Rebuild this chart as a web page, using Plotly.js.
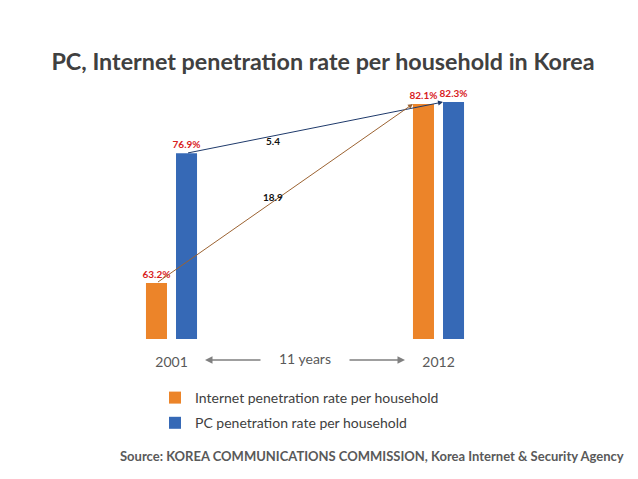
<!DOCTYPE html>
<html>
<head>
<meta charset="utf-8">
<script src="https://cdn.plot.ly/plotly-3.0.1.min.js"></script>
<style>html,body{margin:0;padding:0;background:#fff;}#chart{width:638px;height:479px;}</style>
</head>
<body>
<div id="chart"></div>
<script>
var years = ["2001", "2012"];
var internetRate = [63.2, 82.1];
var pcRate = [76.9, 82.3];
var seriesNames = ["Internet penetration rate per household", "PC penetration rate per household"];
var titleText = "PC, Internet penetration rate per household in Korea";
var sourceText = "Source: KOREA COMMUNICATIONS COMMISSION, Korea Internet & Security Agency";
var spanText = "11 years";

var FONT = "Lato, 'Open Sans', sans-serif";
var bargap = 0.775, bargroupgap = 0.3;
var slot = (1 - bargap) / 2;
var halfBar = slot * (1 - bargroupgap) / 2;
var offO = -slot / 2, offB = slot / 2;

function fmt(v){ return v.toFixed(1) + "%"; }

var labelFont = {family:FONT, size:10, color:"#D8211D", weight:"bold"};
var traces = [
  {type:"bar", name:seriesNames[0], legendgroup:"a", x:years, y:internetRate,
   marker:{color:"#EC8429"}, text:internetRate.map(fmt), textposition:"outside", constraintext:"none",
   textfont:labelFont, cliponaxis:false, hoverinfo:"skip"},
  {type:"bar", name:seriesNames[1], legendgroup:"b", x:years, y:pcRate,
   marker:{color:"#3669B6"}, text:pcRate.map(fmt), textposition:"outside", constraintext:"none",
   textfont:labelFont, cliponaxis:false, hoverinfo:"skip"}
];

var L = 38, R = 66, T = 90, B = 140;
var W = 638 - L - R, H = 479 - T - B;
function px(p){ return (p - L) / W; }
function py(p){ return (479 - B - p) / H; }

var annotations = [
  {x: 1 + offB - halfBar, y: pcRate[1], ax: 0 + offB, ay: pcRate[0], xref:"x", yref:"y", axref:"x", ayref:"y",
   text:"", showarrow:true, arrowhead:2, arrowsize:1, arrowwidth:1, arrowcolor:"#1F3A6B", standoff:0},
  {x: 1 + offO - halfBar, y: internetRate[1], ax: 0 + offO, ay: internetRate[0], xref:"x", yref:"y", axref:"x", ayref:"y",
   text:"", showarrow:true, arrowhead:2, arrowsize:1, arrowwidth:1, arrowcolor:"#9C6332", standoff:0},
  {x: 0.38, y: 78.2, xref:"x", yref:"y", text:(pcRate[1]-pcRate[0]).toFixed(1), showarrow:false,
   font:{family:FONT, size:10, color:"#111", weight:"bold"}},
  {x: 0.38, y: 72.3, xref:"x", yref:"y", text:(internetRate[1]-internetRate[0]).toFixed(1), showarrow:false,
   font:{family:FONT, size:10, color:"#111", weight:"bold"}},
  {x: px(305), y: py(358), xref:"paper", yref:"paper", yanchor:"middle", text:spanText, showarrow:false,
   font:{family:FONT, size:14, color:"#595959"}},
  {x: px(205), y: py(360), xref:"paper", yref:"paper", ax:57, ay:0, text:"", showarrow:true,
   arrowhead:2, arrowsize:1, arrowwidth:1.5, arrowcolor:"#808080", standoff:0},
  {x: px(405), y: py(360), xref:"paper", yref:"paper", ax:-57, ay:0, text:"", showarrow:true,
   arrowhead:2, arrowsize:1, arrowwidth:1.5, arrowcolor:"#808080", standoff:0},
  {x: px(372), y: py(466), xref:"paper", yref:"paper", text:"<b>"+sourceText+"</b>", showarrow:false,
   font:{family:FONT, size:13, color:"#595959"}}
];

var layout = {
  width:638, height:479,
  margin:{l:L, r:R, t:T, b:B},
  paper_bgcolor:"#fff", plot_bgcolor:"#fff",
  title:{text:"<b>"+titleText+"</b>", x:323/638, xanchor:"center", xref:"container",
         y:1-62/479, yanchor:"middle", yref:"container",
         font:{family:FONT, size:23.3, color:"#404040"}},
  barmode:"group", bargap:bargap, bargroupgap:bargroupgap,
  xaxis:{type:"category", range:[-0.5, 1.5], showgrid:false, zeroline:false, showline:false,
         ticks:"", ticklabelstandoff:13, tickfont:{family:FONT, size:14, color:"#595959"}, fixedrange:true},
  yaxis:{visible:false, range:[57.3, 83.57], fixedrange:true},
  showlegend:true,
  legend:{x:px(155), y:py(382), xanchor:"left", yanchor:"top", orientation:"v",
          font:{family:FONT, size:14, color:"#404040"}, tracegroupgap:4, bgcolor:"rgba(0,0,0,0)"},
  annotations:annotations
};

Plotly.newPlot("chart", traces, layout, {displayModeBar:false, staticPlot:true});
</script>
</body>
</html>
